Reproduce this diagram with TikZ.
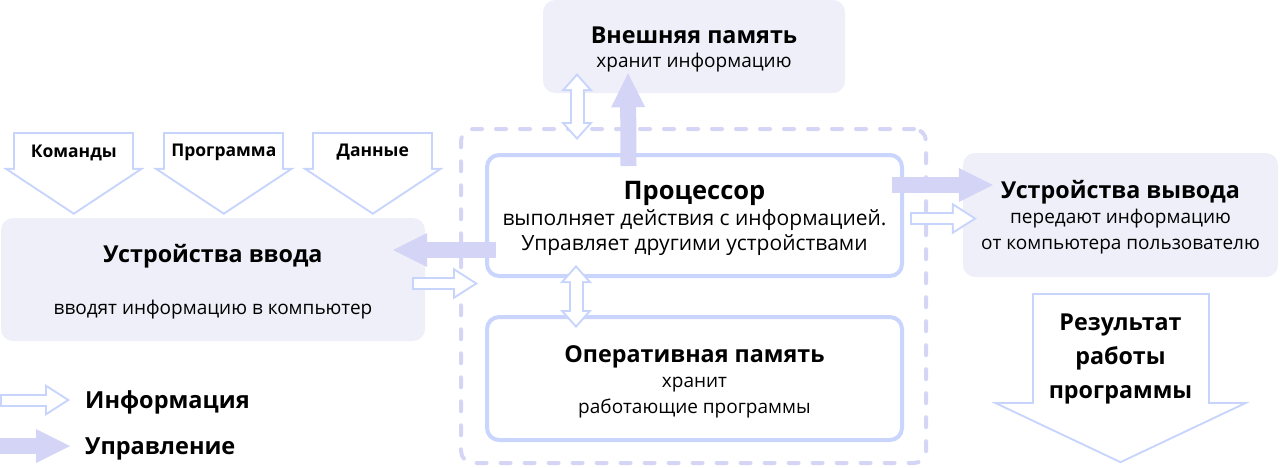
\documentclass[tikz,border=0pt]{standalone}
\usepackage{fontspec}
\setmainfont{Open Sans}
\usetikzlibrary{arrows.meta, calc}

\definecolor{softfill}{RGB}{239,239,250}
\definecolor{ctrlfill}{RGB}{212,212,247}
\definecolor{infoline}{RGB}{199,212,252}
\definecolor{dashline}{RGB}{213,213,246}
\definecolor{boxline}{RGB}{201,213,253}

\newcommand{\ttl}[1]{{\bfseries\fontsize{23.3}{28}\selectfont\rule{0pt}{23pt}#1}}
\newcommand{\bigttl}[1]{{\bfseries\fontsize{25.5}{28}\selectfont\rule{0pt}{24pt}#1}}

\tikzset{
	softbox/.style={fill=softfill, rounded corners=12pt, inner sep=0pt, align=center, font=\fontsize{19}{25.5}\selectfont},
	unitbox/.style={draw=boxline, line width=4pt, fill=white, rounded corners=12pt, inner sep=0pt, align=center, font=\fontsize{19}{25.5}\selectfont},
	corebox/.style={draw=dashline, line width=4pt, line cap=round, dash pattern=on 10pt off 14pt, rounded corners=12pt},
	tag/.style={inner sep=0pt, font=\bfseries\fontsize{17.5}{20}\selectfont},
	legend/.style={inner sep=0pt, anchor=base west, font=\bfseries\fontsize{23.5}{28}\selectfont},
	ctrl/.style={draw=ctrlfill, line width=16pt, -{Triangle[length=34pt, width=34pt, line width=0pt]}},
	info/.style={draw=infoline, line width=13pt, -{Triangle[length=25pt, width=32pt, line width=0pt]},
		postaction={draw=white, line width=9pt, shorten <=2pt, shorten >=3.7pt, -{Triangle[length=19.3pt, width=24.7pt, line width=0pt]}}},
	infoboth/.style={draw=infoline, line width=15pt, {Triangle[length=18pt, width=32pt, line width=0pt]}-{Triangle[length=18pt, width=32pt, line width=0pt]},
		postaction={draw=white, line width=11pt, shorten <=3pt, shorten >=3pt, {Triangle[length=13pt, width=23.1pt, line width=0pt]}-{Triangle[length=13pt, width=23.1pt, line width=0pt]}}},
	bigdown/.style={draw=infoline, line width=121pt, -{Triangle[length=47pt, width=142pt, line width=0pt]},
		postaction={draw=white, line width=117pt, shorten <=2pt, shorten >=2.4pt, -{Triangle[length=42.6pt, width=128.7pt, line width=0pt]}}},
	resultdown/.style={draw=infoline, line width=178pt, -{Triangle[length=61pt, width=258pt, line width=0pt]},
		postaction={draw=white, line width=174pt, shorten <=2pt, shorten >=2.2pt, -{Triangle[length=56.8pt, width=240.2pt, line width=0pt]}}},
}

\begin{document}
\begin{tikzpicture}[x=1pt, y=-1pt]
	\useasboundingbox (0,0) rectangle (1280,467);
	
	\node[softbox, minimum width=302pt, minimum height=93pt] (extmem) at (694,46.5) {\ttl{Внешняя память}\\[-2pt] хранит информацию};
	\node[softbox, minimum width=424pt, minimum height=123pt] (input) at (213,279.5) {\ttl{Устройства ввода}\\[26pt] вводят информацию в компьютер};
	\node[softbox, minimum width=315pt, minimum height=124pt] (output) at (1120.5,215) {\ttl{Устройства вывода}\\[-1pt] передают информацию\\[1pt] от компьютера пользователю};
	
	\node[corebox, minimum width=465pt, minimum height=334pt] (core) at (693.5,296) {};
	\node[unitbox, minimum width=415pt, minimum height=121pt, font=\fontsize{21}{25}\selectfont] (cpu) at (694.5,215.5) {\bigttl{Процессор}\\[1pt] выполняет действия с информацией.\\ Управляет другими устройствами};
	\node[unitbox, minimum width=415pt, minimum height=123pt] (ram) at (694.5,378.5) {\ttl{Оперативная память}\\[0pt] хранит\\ работающие программы};
	
	\draw[bigdown] ($(input.north west)+(73,-86)$) -- ($(input.north west)+(73,-3)$) node[pos=0.25, tag] (cmd) {Команды};
	\draw[bigdown] ($(input.north west)+(223,-86)$) -- ($(input.north west)+(223,-3)$) node[pos=0.25, tag] (prog) {Программа};
	\draw[bigdown] ($(input.north west)+(372,-86)$) -- ($(input.north west)+(372,-3)$) node[pos=0.25, tag] (data) {Данные};
	
	\draw[ctrl] ($(cpu.north)+(-66,13)$) -- ($(extmem.south)+(-66,-20)$);
	\draw[infoboth] ($(extmem.south)+(-117,-20)$) -- ($(cpu.north)+(-117.5,-13)$);
	\draw[ctrl] ($(cpu.west)+(11,34.5)$) -- ($(input.east)+(-32,-29.5)$);
	\draw[info] ($(input.east)+(-13,4)$) -- ($(cpu.west)+(-7,68)$);
	\draw[infoboth] ($(cpu.south)+(-118.5,-13)$) -- ($(ram.north)+(-118.5,13)$);
	\draw[ctrl] ($(cpu.east)+(-12,-30.5)$) -- ($(output.west)+(30,-30)$);
	\draw[info] ($(cpu.east)+(6,3)$) -- ($(output.west)+(14,3.5)$);
	
	\draw[resultdown] ($(output.south)+(0,16)$) -- ($(output.south)+(0,186)$) node[pos=0.37, tag, align=center, font=\bfseries\fontsize{23.3}{34}\selectfont] (res) {\rule{0pt}{22.6pt}Результат\\работы\\программы};
	
	\node[legend] (leginfo) at (85,408.5) {Информация};
	\node[legend] (legctrl) at (85,454.5) {Управление};
	\draw[info] ($(leginfo.base west)+(-85,-8.5)$) -- ($(leginfo.base west)+(-15,-8.5)$);
	\draw[ctrl] ($(legctrl.base west)+(-85,-8.5)$) -- ($(legctrl.base west)+(-15,-8.5)$);
	
\end{tikzpicture}
\end{document}
